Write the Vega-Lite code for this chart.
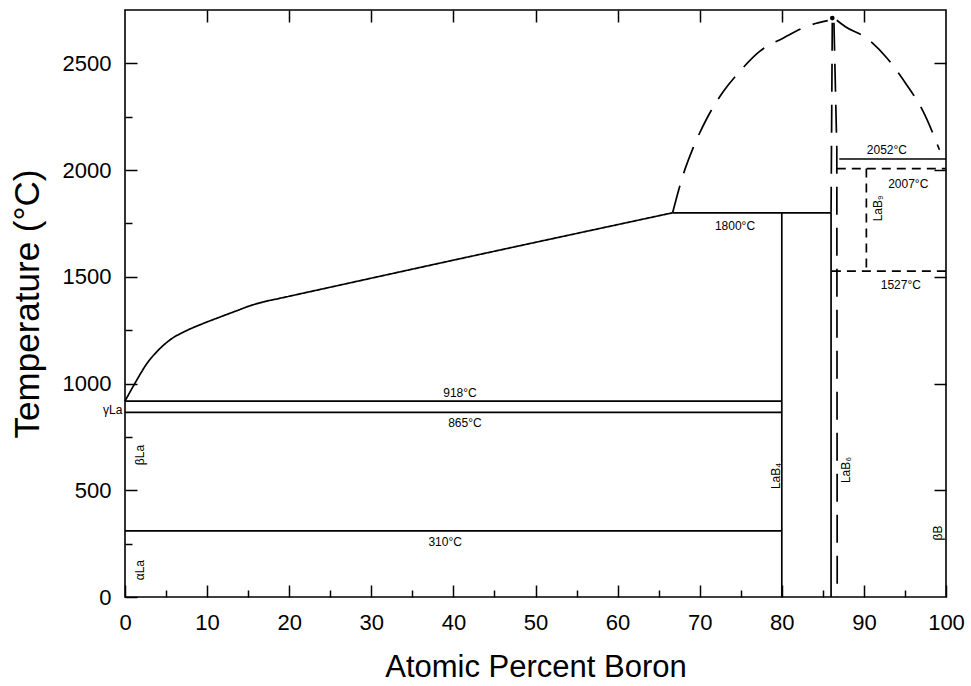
{
  "$schema": "https://vega.github.io/schema/vega-lite/v6.json",
  "width": 821,
  "height": 587,
  "autosize": {"type": "none"},
  "padding": {"left": 125, "top": 10, "right": 25, "bottom": 89},
  "background": "white",
  "config": {
    "view": {"stroke": "black", "strokeWidth": 1.6},
    "axis": {"grid": false, "domain": false, "tickColor": "black", "tickWidth": 1.5, "labelColor": "black", "labelFont": "Liberation Sans", "titleFont": "Liberation Sans", "titleColor": "black", "titleFontWeight": "normal", "labelFlush": false}
  },
  "datasets": {
    "lines": [
      {"id": "iso918", "kind": "established", "i": 0, "x": 0, "t": 918},
      {"id": "iso918", "kind": "established", "i": 1, "x": 80, "t": 918},
      {"id": "iso865", "kind": "established", "i": 0, "x": 0, "t": 865},
      {"id": "iso865", "kind": "established", "i": 1, "x": 80, "t": 865},
      {"id": "iso310", "kind": "established", "i": 0, "x": 0, "t": 310},
      {"id": "iso310", "kind": "established", "i": 1, "x": 80, "t": 310},
      {"id": "iso1800", "kind": "established", "i": 0, "x": 66.7, "t": 1800},
      {"id": "iso1800", "kind": "established", "i": 1, "x": 86.0, "t": 1800},
      {"id": "LaB4", "kind": "established", "i": 0, "x": 80, "t": 1800},
      {"id": "LaB4", "kind": "established", "i": 1, "x": 80, "t": 0},
      {"id": "LaB6_left", "kind": "established", "i": 0, "x": 86.0, "t": 1800},
      {"id": "LaB6_left", "kind": "established", "i": 1, "x": 86.0, "t": 0},
      {"id": "iso2052", "kind": "established", "i": 0, "x": 87.0, "t": 2052},
      {"id": "iso2052", "kind": "established", "i": 1, "x": 100, "t": 2052},
      {"id": "LaB6_left_high", "kind": "estimated", "i": 0, "x": 86.15, "t": 2690},
      {"id": "LaB6_left_high", "kind": "estimated", "i": 1, "x": 86.0, "t": 1800},
      {"id": "LaB6_right", "kind": "estimated", "i": 0, "x": 86.35, "t": 2690},
      {"id": "LaB6_right", "kind": "estimated", "i": 1, "x": 86.7, "t": 2100},
      {"id": "LaB6_right", "kind": "estimated", "i": 2, "x": 86.75, "t": 0},
      {"id": "iso2007", "kind": "tentative", "i": 0, "x": 86.7, "t": 2007},
      {"id": "iso2007", "kind": "tentative", "i": 1, "x": 100, "t": 2007},
      {"id": "iso1527", "kind": "tentative", "i": 0, "x": 86.1, "t": 1527},
      {"id": "iso1527", "kind": "tentative", "i": 1, "x": 100, "t": 1527},
      {"id": "LaB9", "kind": "tentative", "i": 0, "x": 90.3, "t": 2007},
      {"id": "LaB9", "kind": "tentative", "i": 1, "x": 90.3, "t": 1527}
    ],
    "curves": [
      {"id": "liquidus_La", "kind": "established", "i": 0, "x": 0, "t": 918},
      {"id": "liquidus_La", "kind": "established", "i": 1, "x": 1.4, "t": 1014},
      {"id": "liquidus_La", "kind": "established", "i": 2, "x": 2.6, "t": 1090},
      {"id": "liquidus_La", "kind": "established", "i": 3, "x": 3.9, "t": 1150},
      {"id": "liquidus_La", "kind": "established", "i": 4, "x": 5.5, "t": 1205},
      {"id": "liquidus_La", "kind": "established", "i": 5, "x": 7.5, "t": 1248},
      {"id": "liquidus_La", "kind": "established", "i": 6, "x": 9.5, "t": 1281},
      {"id": "liquidus_La", "kind": "established", "i": 7, "x": 11.6, "t": 1312},
      {"id": "liquidus_La", "kind": "established", "i": 8, "x": 13.6, "t": 1341},
      {"id": "liquidus_La", "kind": "established", "i": 9, "x": 15.2, "t": 1364},
      {"id": "liquidus_La", "kind": "established", "i": 10, "x": 16.8, "t": 1382},
      {"id": "liquidus_La", "kind": "established", "i": 11, "x": 18.7, "t": 1398},
      {"id": "liquidus_La", "kind": "established", "i": 12, "x": 40, "t": 1578},
      {"id": "liquidus_La", "kind": "established", "i": 13, "x": 66.7, "t": 1800},
      {"id": "liquidus_left", "kind": "estimated", "i": 0, "x": 66.7, "t": 1800},
      {"id": "liquidus_left", "kind": "estimated", "i": 1, "x": 68.0, "t": 1980},
      {"id": "liquidus_left", "kind": "estimated", "i": 2, "x": 69.2, "t": 2104},
      {"id": "liquidus_left", "kind": "estimated", "i": 3, "x": 70.9, "t": 2244},
      {"id": "liquidus_left", "kind": "estimated", "i": 4, "x": 72.9, "t": 2369},
      {"id": "liquidus_left", "kind": "estimated", "i": 5, "x": 74.9, "t": 2463},
      {"id": "liquidus_left", "kind": "estimated", "i": 6, "x": 77.3, "t": 2556},
      {"id": "liquidus_left", "kind": "estimated", "i": 7, "x": 80.2, "t": 2619},
      {"id": "liquidus_left", "kind": "estimated", "i": 8, "x": 83.0, "t": 2673},
      {"id": "liquidus_left", "kind": "estimated", "i": 9, "x": 85.6, "t": 2700},
      {"id": "liquidus_right", "kind": "estimated", "i": 0, "x": 86.7, "t": 2702},
      {"id": "liquidus_right", "kind": "estimated", "i": 1, "x": 87.7, "t": 2673},
      {"id": "liquidus_right", "kind": "estimated", "i": 2, "x": 90.3, "t": 2619},
      {"id": "liquidus_right", "kind": "estimated", "i": 3, "x": 92.8, "t": 2525},
      {"id": "liquidus_right", "kind": "estimated", "i": 4, "x": 95.2, "t": 2400},
      {"id": "liquidus_right", "kind": "estimated", "i": 5, "x": 97.2, "t": 2276},
      {"id": "liquidus_right", "kind": "estimated", "i": 6, "x": 99.2, "t": 2095}
    ],
    "labels": [
      {"label": "918°C", "x": 40.8, "t": 955},
      {"label": "865°C", "x": 41.4, "t": 815},
      {"label": "310°C", "x": 39.0, "t": 257},
      {"label": "1800°C", "x": 74.3, "t": 1737},
      {"label": "2052°C", "x": 92.8, "t": 2093},
      {"label": "2007°C", "x": 95.4, "t": 1934},
      {"label": "1527°C", "x": 94.5, "t": 1461},
      {"label": "γLa", "x": -1.5, "t": 875}
    ],
    "vlabels": [
      {"label": "LaB₄", "x": 79.3, "t": 567},
      {"label": "LaB₉", "x": 91.7, "t": 1821},
      {"label": "βB", "x": 99.0, "t": 300},
      {"label": "βLa", "x": 1.8, "t": 665},
      {"label": "αLa", "x": 1.8, "t": 126},
      {"label": "LaB₆", "x": 87.8, "t": 595}
    ],
    "peak": [
      {"x": 86.15, "t": 2712}
    ]
  },
  "layer": [
    {
      "data": {"name": "lines"},
      "mark": {"type": "line", "color": "black", "strokeWidth": 1.7},
      "encoding": {
        "x": {"field": "x", "type": "quantitative", "scale": {"domain": [0, 100], "nice": false},
          "axis": {"orient": "bottom", "values": [0, 10, 20, 30, 40, 50, 60, 70, 80, 90, 100], "tickSize": -12, "labelFontSize": 22, "labelPadding": 27, "title": "Atomic Percent Boron", "titleFontSize": 31, "titlePadding": 19}},
        "y": {"field": "t", "type": "quantitative", "scale": {"domain": [0, 2750], "nice": false},
          "axis": {"orient": "left", "values": [0, 500, 1000, 1500, 2000, 2500], "format": "d", "tickSize": -12, "labelFontSize": 22, "labelPadding": 26, "title": "Temperature (°C)", "titleFontSize": 35, "titlePadding": 17}},
        "detail": {"field": "id"},
        "order": {"field": "i"},
        "strokeDash": {"field": "kind", "type": "nominal", "scale": {"domain": ["established", "estimated", "tentative"], "range": [[1, 0], [28, 13], [9, 6]]}, "legend": null}
      }
    },
    {
      "data": {"name": "labels"},
      "mark": {"type": "text", "font": "Liberation Sans", "fontSize": 12, "color": "black", "align": "center", "baseline": "middle"},
      "encoding": {
        "x": {"field": "x", "type": "quantitative", "axis": {"orient": "bottom", "values": [5, 15, 25, 35, 45, 55, 65, 75, 85, 95], "tickSize": -7, "labels": false, "title": null}},
        "y": {"field": "t", "type": "quantitative", "axis": {"orient": "left", "values": [250, 750, 1250, 1750, 2250], "tickSize": -7, "labels": false, "title": null}},
        "text": {"field": "label"}
      }
    },
    {
      "data": {"name": "vlabels"},
      "mark": {"type": "text", "font": "Liberation Sans", "fontSize": 12, "color": "black", "align": "center", "baseline": "middle", "angle": 270},
      "encoding": {
        "x": {"field": "x", "type": "quantitative", "axis": {"orient": "top", "values": [10, 20, 30, 40, 50, 60, 70, 80, 90], "tickSize": -12, "labels": false, "title": null}},
        "y": {"field": "t", "type": "quantitative", "axis": {"orient": "right", "values": [500, 1000, 1500, 2000, 2500], "tickSize": -12, "labels": false, "title": null}},
        "text": {"field": "label"}
      }
    },
    {
      "data": {"name": "curves"},
      "mark": {"type": "line", "color": "black", "strokeWidth": 1.7, "interpolate": "monotone"},
      "encoding": {
        "x": {"field": "x", "type": "quantitative", "axis": null},
        "y": {"field": "t", "type": "quantitative", "axis": null},
        "detail": {"field": "id"},
        "order": {"field": "i"},
        "strokeDash": {"field": "kind", "type": "nominal", "scale": {"domain": ["established", "estimated", "tentative"], "range": [[1, 0], [28, 13], [9, 6]]}, "legend": null}
      }
    },
    {
      "data": {"name": "peak"},
      "mark": {"type": "point", "filled": true, "color": "black", "size": 22, "opacity": 1},
      "encoding": {
        "x": {"field": "x", "type": "quantitative", "axis": null},
        "y": {"field": "t", "type": "quantitative", "axis": null}
      }
    }
  ],
  "resolve": {"axis": {"x": "independent", "y": "independent"}}
}
